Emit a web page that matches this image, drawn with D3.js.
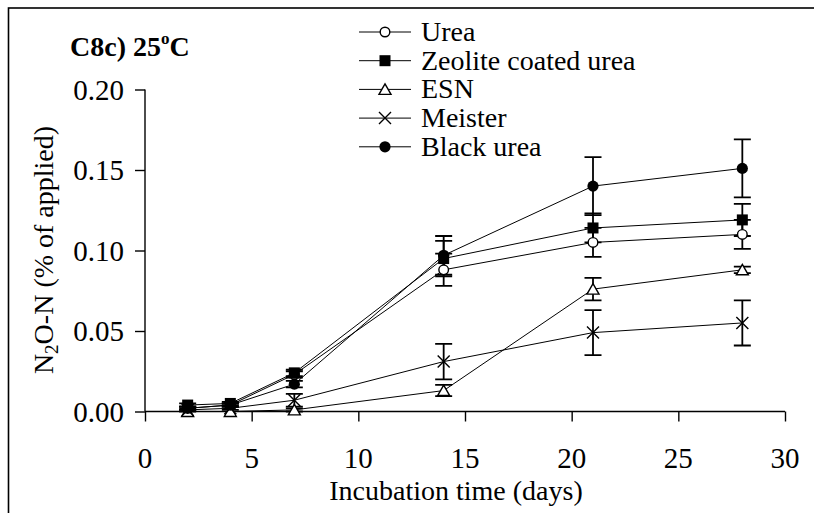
<!DOCTYPE html>
<html>
<head>
<meta charset="utf-8">
<script src="https://cdn.jsdelivr.net/npm/d3@7"></script>
<style>
  html, body { margin: 0; padding: 0; background: #fff; }
  svg { display: block; }
  text { font-family: "Liberation Serif", Tinos, "Times New Roman", serif; fill: #000; }
</style>
</head>
<body>
<svg id="chart" width="814" height="513"></svg>
<script>
// ---- data ----
const days = [2, 4, 7, 14, 21, 28];
const seriesNames = ["Urea", "Zeolite coated urea", "ESN", "Meister", "Black urea"];
const markerTypes = ["openCircle", "square", "openTriangle", "cross", "dot"];
const urea       = [0.002, 0.004, 0.023, 0.088, 0.105, 0.110];
const ureaErr    = [0.001, 0.001, 0.002, 0.010, 0.009, 0.009];
const zeolite    = [0.004, 0.005, 0.024, 0.095, 0.114, 0.119];
const zeoliteErr = [0.001, 0.001, 0.002, 0.011, 0.009, 0.010];
const esn        = [0.000, 0.000, 0.001, 0.013, 0.076, 0.088];
const esnErr     = [0.000, 0.000, 0.001, 0.0035, 0.007, 0.002];
const meister    = [0.001, 0.002, 0.007, 0.031, 0.049, 0.055];
const meisterErr = [0.001, 0.001, 0.004, 0.011, 0.014, 0.014];
const blackUrea  = [0.002, 0.004, 0.017, 0.097, 0.140, 0.151];
const blackErr   = [0.001, 0.001, 0.002, 0.012, 0.018, 0.018];
const xTicks = [0, 5, 10, 15, 20, 25, 30];
const yTicks = [0, 0.05, 0.10, 0.15, 0.20];

const values = [urea, zeolite, esn, meister, blackUrea];
const errors = [ureaErr, zeoliteErr, esnErr, meisterErr, blackErr];

// ---- layout ----
const svg = d3.select("#chart");
const x = d3.scaleLinear().domain([0, 30]).range([145, 785]);
const y = d3.scaleLinear().domain([0, 0.20]).range([411.5, 89.5]);

// frame (cut off at right/bottom in reference)
svg.append("rect").attr("x", 8.5).attr("y", 8).attr("width", 900).attr("height", 900)
  .attr("fill", "none").attr("stroke", "#000").attr("stroke-width", 1.6);

function stext(px, py, str, size, anchor, weight) {
  const t = svg.append("text").attr("x", px).attr("y", py)
    .attr("font-size", size).attr("text-anchor", anchor || "start");
  if (weight) t.attr("font-weight", weight);
  t.text(str);
  return t;
}

// axes
const xAxis = d3.axisBottom(x).tickValues(xTicks).tickSize(10).tickFormat("");
const yAxis = d3.axisLeft(y).tickValues(yTicks).tickSize(10).tickFormat("");
const gx = svg.append("g").attr("transform", `translate(0,${y(0)})`).call(xAxis);
const gy = svg.append("g").attr("transform", `translate(${x(0)},0)`).call(yAxis);
[gx, gy].forEach(g => {
  g.select(".domain").attr("stroke", "#000").attr("stroke-width", 1.4);
  g.selectAll(".tick line").attr("stroke", "#000").attr("stroke-width", 1.4);
});
gx.select(".domain").attr("d", `M${x(0)},0H${x(30)}`);
gy.select(".domain").attr("d", `M0,${y(0.20)}V${y(0)}`);

// tick labels
xTicks.forEach(v => stext(x(v), 468, String(v), 29, "middle"));
yTicks.forEach(v => stext(124, y(v) + 10, d3.format(".2f")(v), 29, "end"));

// axis titles
stext(456, 500, "Incubation time (days)", 28, "middle");
const yl = svg.append("text").attr("transform", `translate(53,250) rotate(-90)`)
  .attr("text-anchor", "middle").attr("font-size", 28);
yl.append("tspan").text("N");
yl.append("tspan").attr("font-size", 19).attr("dy", 5).text("2");
yl.append("tspan").attr("dy", -5).text("O-N (% of applied)");

// title
const tt = stext(70, 56, "", 28, "start", "bold");
tt.append("tspan").text("C8c) 25");
tt.append("tspan").attr("font-size", 17).attr("dy", -12).text("o");
tt.append("tspan").attr("dy", 12).text("C");

// marker drawing
function drawMarker(g, type, cx, cy) {
  if (type === "openCircle") {
    g.append("circle").attr("cx", cx).attr("cy", cy).attr("r", 4.8)
      .attr("fill", "#fff").attr("stroke", "#000").attr("stroke-width", 1.4);
  } else if (type === "dot") {
    g.append("circle").attr("cx", cx).attr("cy", cy).attr("r", 5.6).attr("fill", "#000");
  } else if (type === "square") {
    g.append("rect").attr("x", cx - 5.5).attr("y", cy - 5.5).attr("width", 11).attr("height", 11).attr("fill", "#000");
  } else if (type === "openTriangle") {
    g.append("path").attr("d", `M${cx},${cy - 5.5}L${cx + 6},${cy + 5}L${cx - 6},${cy + 5}Z`)
      .attr("fill", "#fff").attr("stroke", "#000").attr("stroke-width", 1.4);
  } else if (type === "cross") {
    g.append("path").attr("d", `M${cx - 6},${cy - 6}L${cx + 6},${cy + 6}M${cx - 6},${cy + 6}L${cx + 6},${cy - 6}`)
      .attr("stroke", "#000").attr("stroke-width", 1.4);
  }
}

const line = d3.line().x(d => x(d[0])).y(d => y(d[1]));
const plot = svg.append("g");
// lines
values.forEach(vals => {
  plot.append("path").attr("d", line(days.map((d, i) => [d, vals[i]])))
    .attr("fill", "none").attr("stroke", "#000").attr("stroke-width", 1);
});
// error bars
values.forEach((vals, s) => {
  days.forEach((d, i) => {
    const e = errors[s][i];
    if (!e) return;
    const cx = x(d), y1 = y(vals[i] + e), y2 = y(vals[i] - e);
    plot.append("path").attr("d", `M${cx},${y1}V${y2}M${cx - 8.5},${y1}H${cx + 8.5}M${cx - 8.5},${y2}H${cx + 8.5}`)
      .attr("stroke", "#000").attr("stroke-width", 1.8).attr("fill", "none");
  });
});
// markers
values.forEach((vals, s) => {
  days.forEach((d, i) => drawMarker(plot, markerTypes[s], x(d), y(vals[i])));
});

// legend
const lg = svg.append("g");
seriesNames.forEach((name, i) => {
  const ly = 32 + i * 28.7;
  lg.append("line").attr("x1", 359).attr("x2", 411).attr("y1", ly).attr("y2", ly)
    .attr("stroke", "#000").attr("stroke-width", 1);
  drawMarker(lg, markerTypes[i], 385, ly);
  stext(421, ly + 9, name, 28, "start");
});
</script>
</body>
</html>
